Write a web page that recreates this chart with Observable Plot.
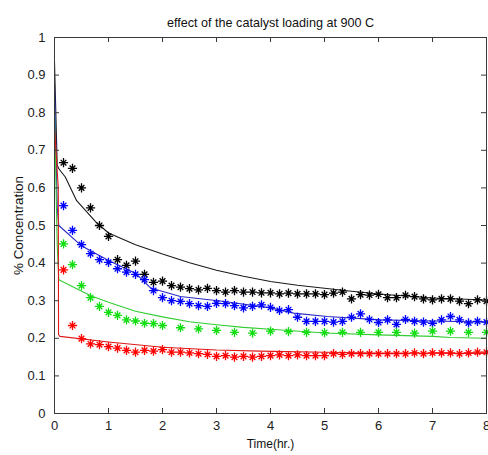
<!DOCTYPE html>
<html>
<head>
<meta charset="utf-8">
<script src="https://cdn.jsdelivr.net/npm/d3@7"></script>
<script src="https://cdn.jsdelivr.net/npm/@observablehq/plot@0.6"></script>
<style>
  html, body { margin: 0; padding: 0; background: #fff; }
  #chart svg { display: block; }
</style>
</head>
<body>
<div id="chart"></div>
<script>
const title = "effect of the catalyst loading at 900 C";
const xLabel = "Time(hr.)";
const yLabel = "% Concentration";
const xTicks = [0, 1, 2, 3, 4, 5, 6, 7, 8];
const yTicks = [0, 0.1, 0.2, 0.3, 0.4, 0.5, 0.6, 0.7, 0.8, 0.9, 1];
const yTickLabels = ["0", "0.1", "0.2", "0.3", "0.4", "0.5", "0.6", "0.7", "0.8", "0.9", "1"];

// measured samples (every 10 min)
const sampleTimes = [0.167,0.333,0.5,0.667,0.833,1,1.167,1.333,1.5,1.667,1.833,2,2.167,2.333,2.5,2.667,2.833,3,3.167,3.333,3.5,3.667,3.833,4,4.167,4.333,4.5,4.667,4.833,5,5.167,5.333,5.5,5.667,5.833,6,6.167,6.333,6.5,6.667,6.833,7,7.167,7.333,7.5,7.667,7.833,8];
const blackPts = [0.667,0.652,0.600,0.547,0.500,0.471,0.409,0.394,0.405,0.370,0.349,0.352,0.340,0.336,0.332,0.329,0.333,0.327,0.323,0.327,0.323,0.323,0.321,0.321,0.318,0.320,0.318,0.318,0.318,0.316,0.320,0.323,0.305,0.316,0.315,0.317,0.308,0.308,0.314,0.311,0.305,0.302,0.305,0.305,0.299,0.292,0.302,0.299];
const bluePts = [0.553,0.487,0.449,0.425,0.409,0.402,0.385,0.376,0.370,0.356,0.327,0.308,0.300,0.298,0.292,0.287,0.285,0.293,0.292,0.287,0.281,0.285,0.289,0.282,0.274,0.276,0.256,0.245,0.245,0.245,0.243,0.245,0.256,0.265,0.250,0.242,0.249,0.237,0.250,0.245,0.243,0.240,0.249,0.258,0.249,0.241,0.245,0.243];
const redPts = [0.382,0.234,0.199,0.185,0.183,0.178,0.174,0.168,0.163,0.168,0.166,0.170,0.163,0.163,0.161,0.159,0.157,0.152,0.154,0.150,0.152,0.150,0.152,0.154,0.156,0.154,0.156,0.154,0.154,0.154,0.159,0.157,0.159,0.159,0.159,0.159,0.159,0.159,0.159,0.161,0.159,0.161,0.161,0.161,0.159,0.161,0.163,0.163];
// green samples: every 10 min up to 2 h, then every 20 min
const greenTimes = [0.167,0.333,0.5,0.667,0.833,1,1.167,1.333,1.5,1.667,1.833,2,2.333,2.667,3,3.333,3.667,4,4.333,4.667,5,5.333,5.667,6,6.333,6.667,7,7.333,7.667,8];
const greenPts = [0.451,0.396,0.340,0.308,0.285,0.269,0.261,0.249,0.246,0.240,0.239,0.234,0.228,0.225,0.221,0.216,0.214,0.219,0.218,0.216,0.215,0.216,0.216,0.216,0.216,0.214,0.219,0.219,0.216,0.216];

// fitted curves
const blackFitT = [0,0.05,0.08,0.2,0.41,0.76,1.0,1.5,2.0,2.5,3.0,3.5,4.0,4.5,5.0,5.5,6.0,7.0,8.0];
const blackFitY = [0.935,0.66,0.651,0.629,0.566,0.510,0.480,0.449,0.424,0.401,0.381,0.365,0.351,0.341,0.333,0.325,0.318,0.307,0.302];
const blueFitT = [0,0.05,0.08,0.49,1.0,1.5,1.78,2.33,3.07,4.0,4.43,5.05,6.04,7.0,8.0];
const blueFitY = [0.875,0.55,0.50,0.447,0.407,0.373,0.334,0.311,0.299,0.281,0.267,0.258,0.249,0.246,0.243];
const greenFitT = [0,0.05,0.08,0.66,1.0,1.5,2.0,2.5,3.0,3.5,4.0,5.0,6.0,7.0,7.33,8.0];
const greenFitY = [0.81,0.45,0.356,0.314,0.296,0.272,0.257,0.244,0.236,0.229,0.224,0.214,0.209,0.205,0.202,0.200];
const redFitT = [0,0.07,0.075,0.1,1.0,2.0,3.0,3.8,5.0,6.0,8.0];
const redFitY = [0.76,0.6,0.21,0.205,0.190,0.176,0.169,0.166,0.163,0.161,0.160];

const series = [
  {name: "black", t: sampleTimes, v: blackPts, ft: blackFitT, fv: blackFitY, mark: "#000000", line: "#1a1a1a"},
  {name: "blue", t: sampleTimes, v: bluePts, ft: blueFitT, fv: blueFitY, mark: "#0000ff", line: "#2a2ac8"},
  {name: "green", t: greenTimes, v: greenPts, ft: greenFitT, fv: greenFitY, mark: "#11dd11", line: "#33cc33"},
  {name: "red", t: sampleTimes, v: redPts, ft: redFitT, fv: redFitY, mark: "#ff0000", line: "#e01818"}
];

const points = series.flatMap(s => s.t.map((t, i) => ({t, v: s.v[i], c: s.mark})));
const fits = series.flatMap(s => s.ft.map((t, i) => ({t, v: s.fv[i], name: s.name, c: s.line})));

const star = {
  draw(ctx, size) {
    const r = Math.sqrt(size / Math.PI);
    const d = r * 0.62;
    ctx.moveTo(-r, 0); ctx.lineTo(r, 0);
    ctx.moveTo(0, -r); ctx.lineTo(0, r);
    ctx.moveTo(-d, -d); ctx.lineTo(d, d);
    ctx.moveTo(-d, d); ctx.lineTo(d, -d);
  }
};

const W = 488, H = 455, mt = 37, mb = 42, ml = 54, mr = 2;
const plotH = H - mt - mb, plotW = W - ml - mr;
const axisColor = "#3a3a3a";
const font = "'Liberation Sans', Arial, sans-serif";

const chart = Plot.plot({
  width: W, height: H,
  marginTop: mt, marginBottom: mb, marginLeft: ml, marginRight: mr,
  style: {fontFamily: font, fontSize: "13px", color: "#222", background: "#fff"},
  x: {domain: [0, 8]},
  y: {domain: [0, 1]},
  marks: [
    Plot.line(fits, {x: "t", y: "v", z: "name", stroke: "c", strokeWidth: 1.1}),
    Plot.dot(points, {x: "t", y: "v", stroke: "c", symbol: star, r: 4.6, strokeWidth: 1.3, fill: "none"}),
    Plot.frame({stroke: axisColor, strokeWidth: 1}),
    Plot.tickX(xTicks, {x: d => d, stroke: axisColor, insetTop: plotH - 5}),
    Plot.tickX(xTicks, {x: d => d, stroke: axisColor, insetBottom: plotH - 5}),
    Plot.tickY(yTicks, {y: d => d, stroke: axisColor, insetRight: plotW - 5}),
    Plot.tickY(yTicks, {y: d => d, stroke: axisColor, insetLeft: plotW - 5}),
    Plot.axisX({ticks: xTicks, tickSize: 0, tickPadding: 7, label: null, tickFormat: d => String(d), fill: "#222", fontSize: 13}),
    Plot.axisY({ticks: yTicks, tickSize: 0, tickPadding: 9, label: null, tickFormat: (d, i) => yTickLabels[i], fill: "#222", fontSize: 13}),
    Plot.text([title], {frameAnchor: "top", dy: -19, fontSize: 12.6, fill: "#111"}),
    Plot.text([xLabel], {frameAnchor: "bottom", dy: 34, fontSize: 12, fill: "#111"}),
    Plot.text([yLabel], {frameAnchor: "left", dx: -36, textAnchor: "middle", rotate: -90, fontSize: 13.4, fill: "#111"})
  ]
});
document.getElementById("chart").appendChild(chart);
</script>
</body>
</html>
